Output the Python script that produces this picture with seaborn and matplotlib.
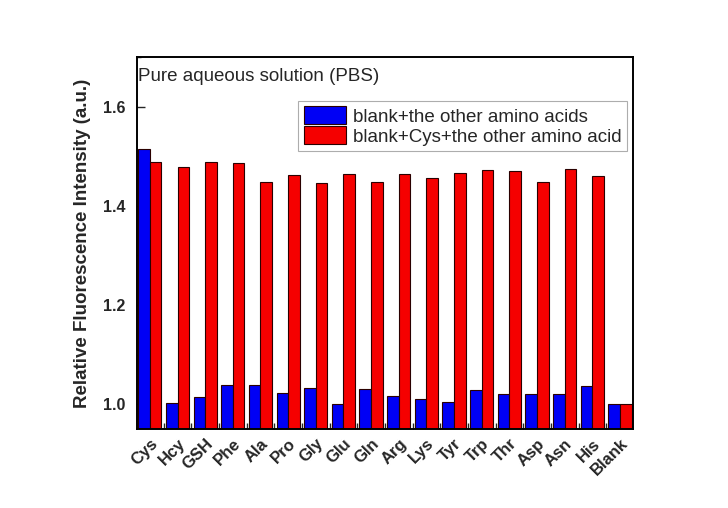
import matplotlib
matplotlib.use("Agg")
import matplotlib.pyplot as plt
import seaborn as sns
import pandas as pd
from matplotlib.ticker import MultipleLocator

categories = ["Cys", "Hcy", "GSH", "Phe", "Ala", "Pro", "Gly", "Glu", "Gln",
              "Arg", "Lys", "Tyr", "Trp", "Thr", "Asp", "Asn", "His", "Blank"]
blue_vals = [1.514, 1.003, 1.015, 1.038, 1.038, 1.023, 1.032, 1.000, 1.030,
             1.016, 1.011, 1.005, 1.028, 1.020, 1.020, 1.020, 1.037, 1.000]
red_vals = [1.489, 1.479, 1.489, 1.487, 1.447, 1.461, 1.446, 1.463, 1.448,
            1.464, 1.455, 1.465, 1.472, 1.471, 1.447, 1.475, 1.459, 1.000]
series = ["blank+the other amino acids", "blank+Cys+the other amino acid"]

df = pd.DataFrame({
    "cat": categories * 2,
    "val": blue_vals + red_vals,
    "series": [series[0]] * len(categories) + [series[1]] * len(categories),
})

sns.set_style("ticks")
plt.rcParams["font.family"] = ["Liberation Sans", "DejaVu Sans"]

fig = plt.figure(figsize=(7.28, 5.08), dpi=100)
ax = fig.add_axes([0.188, 0.1555, 0.6815, 0.7325])

sns.barplot(data=df, x="cat", y="val", hue="series", order=categories,
            hue_order=series, palette=["#0000f5", "#f50000"], width=0.84,
            gap=0, edgecolor="#2a0000", linewidth=0.8, ax=ax, saturation=1)

ax.set_ylim(0.95, 1.70)
ax.set_xlim(-0.47, 17.47)
ax.yaxis.set_major_locator(MultipleLocator(0.2))
ax.yaxis.set_minor_locator(MultipleLocator(0.1))
ax.yaxis.set_major_formatter(matplotlib.ticker.FormatStrFormatter("%.1f"))
ax.set_xticks([i + 0.5 for i in range(len(categories) - 1)], minor=True)
ax.tick_params(axis="x", which="major", length=0, pad=5)
ax.tick_params(axis="x", which="minor", direction="in", length=4, width=1, top=False)
ax.tick_params(axis="y", which="major", direction="in", length=6, width=1, pad=8)
ax.tick_params(axis="y", which="minor", direction="in", length=3, width=1)
ax.set_xticks(range(len(categories)))
ax.set_xticklabels(categories, rotation=45, ha="right", rotation_mode="anchor",
                   fontsize=12, fontweight="bold")
for lab in ax.get_yticklabels():
    lab.set_fontweight("bold")
    lab.set_fontsize(11.5)
for s in ax.spines.values():
    s.set_visible(True)
    s.set_linewidth(1.4)
    s.set_color("black")

ax.set_xlabel("")
ax.set_ylabel("Relative Fluorescence Intensity (a.u.)", fontsize=13.5,
              fontweight="bold", labelpad=9)

ax.text(0.003, 0.946, "Pure aqueous solution (PBS)", transform=ax.transAxes,
        fontsize=13.5, va="center", ha="left")

leg = ax.legend(loc="upper right", bbox_to_anchor=(0.988, 0.882), fontsize=13.5,
                frameon=True, fancybox=False, edgecolor="#999999",
                handlelength=2.25, handleheight=1.05, borderpad=0.3,
                labelspacing=0.05, handletextpad=0.35, borderaxespad=0)
leg.get_frame().set_linewidth(0.8)

fig.savefig("out.png", dpi=100)
